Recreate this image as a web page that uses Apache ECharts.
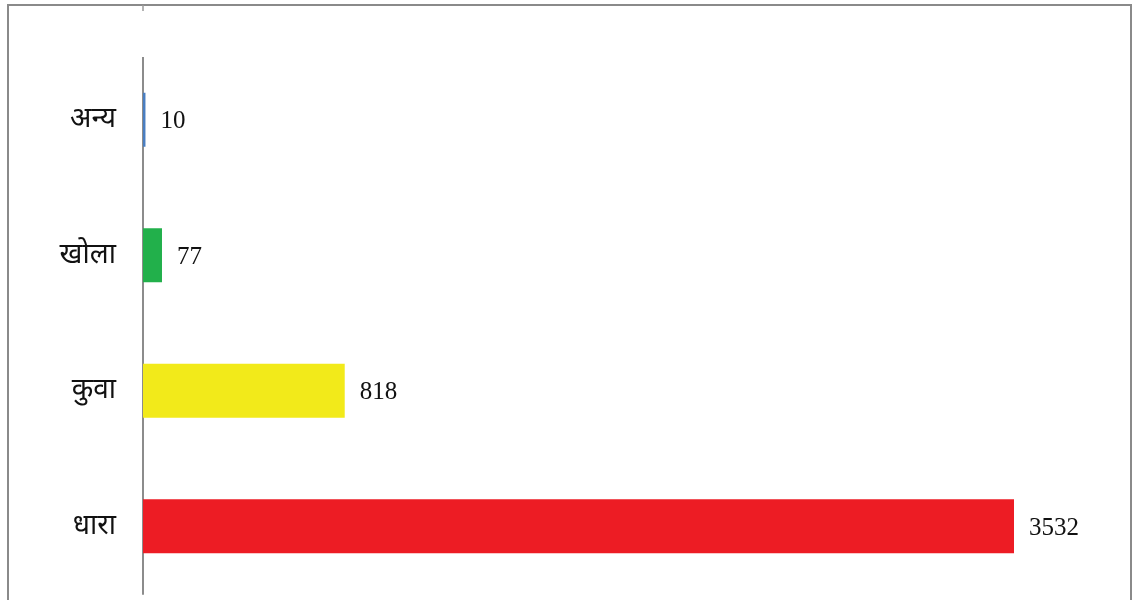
<!DOCTYPE html>
<html>
<head>
<meta charset="utf-8">
<script src="https://cdn.jsdelivr.net/npm/echarts@6/dist/echarts.min.js"></script>
<style>
html,body{margin:0;padding:0;background:#fff;}
#chart{width:1134px;height:600px;}
</style>
</head>
<body>
<div id="chart"></div>
<script>
const categories = ['धारा', 'कुवा', 'खोला', 'अन्य'];
const values = [3532, 818, 77, 10];
const barColors = ['#ED1C24', '#F2EA1A', '#22B04B', '#4A7EC1'];

const chart = echarts.init(document.getElementById('chart'), null, {renderer: 'canvas'});
chart.setOption({
  backgroundColor: '#ffffff',
  animation: false,
  graphic: [
    {type: 'rect', shape: {x: 8, y: 5, width: 1123, height: 620}, style: {fill: 'none', stroke: '#8a8a8a', lineWidth: 2}, silent: true},
    {type: 'line', shape: {x1: 143, y1: 5, x2: 143, y2: 11}, style: {stroke: '#9a9a9a', lineWidth: 1.5}, silent: true},
    {type: 'rect', shape: {x: 140, y: 50, width: 6, height: 7}, style: {fill: '#ffffff'}, silent: true, z: 100}
  ],
  grid: {left: 143, top: 52, width: 871, height: 542, containLabel: false},
  xAxis: {
    type: 'value', min: 0, max: 3532,
    show: false,
    splitLine: {show: false}
  },
  yAxis: {
    type: 'category',
    data: categories,
    axisLine: {show: true, lineStyle: {color: '#8c8c8c', width: 2}},
    axisTick: {show: false},
    axisLabel: {color: '#111', fontSize: 28, margin: 27, padding: [5, 0, 0, 0], fontFamily: 'Liberation Serif, "Noto Serif", "Noto Sans", serif'}
  },
  series: [{
    type: 'bar',
    data: values.map((v, i) => ({value: v, itemStyle: {color: barColors[i]}})),
    barWidth: 54,
    label: {
      show: true, position: 'right', distance: 15, offset: [0, 2],
      color: '#111', fontSize: 25, fontFamily: '"Liberation Serif", "Times New Roman", serif'
    }
  }]
});
</script>
</body>
</html>
